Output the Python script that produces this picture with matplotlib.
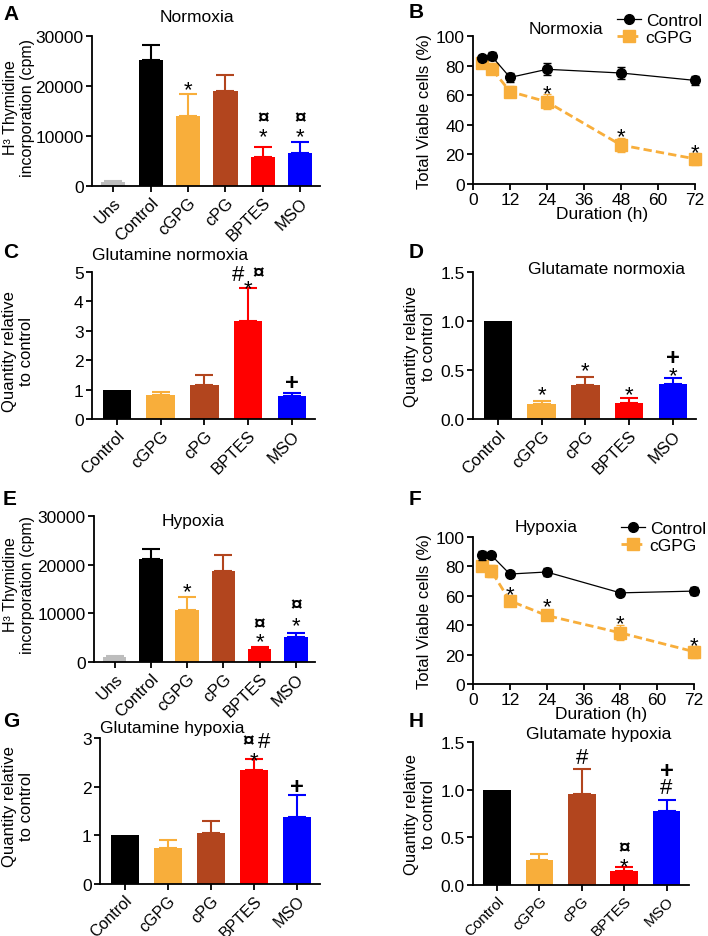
import matplotlib
matplotlib.use("Agg")
import matplotlib.pyplot as plt
import numpy as np

plt.rcParams['font.family'] = ['Liberation Sans', 'DejaVu Sans']
plt.rcParams['font.size'] = 12.5

W, H = 708, 937

# ---- data ----
thy_groups = ["Uns", "Control", "cGPG", "cPG", "BPTES", "MSO"]
gl_groups = ["Control", "cGPG", "cPG", "BPTES", "MSO"]

thy_norm = [800, 25300, 14000, 19000, 5900, 6600]
thy_norm_err = [250, 2900, 4400, 3300, 1900, 2200]
thy_hyp = [1000, 21200, 10700, 18700, 2600, 5100]
thy_hyp_err = [300, 2000, 2600, 3300, 400, 800]

gln_norm = [1.0, 0.82, 1.17, 3.32, 0.77]
gln_norm_err = [0.0, 0.10, 0.33, 1.12, 0.13]
glu_norm = [1.0, 0.15, 0.35, 0.16, 0.355]
glu_norm_err = [0.0, 0.03, 0.08, 0.05, 0.06]
gln_hyp = [1.0, 0.74, 1.05, 2.34, 1.37]
gln_hyp_err = [0.0, 0.16, 0.24, 0.23, 0.46]
glu_hyp = [1.0, 0.26, 0.95, 0.146, 0.78]
glu_hyp_err = [0.0, 0.06, 0.27, 0.04, 0.11]

hours = [3, 6, 12, 24, 48, 72]
via_norm_ctrl = [85, 86.5, 72, 77.5, 75, 70]
via_norm_ctrl_err = [2, 3, 3, 4, 4, 3]
via_norm_cgpg = [82, 78, 62.5, 55.5, 26.3, 17]
via_norm_cgpg_err = [3, 4, 4, 5, 5, 4]
via_hyp_ctrl = [87.5, 87.5, 74.8, 76.2, 62, 63.2]
via_hyp_ctrl_err = [3, 1.5, 1.5, 2.5, 2, 2.5]
via_hyp_cgpg = [80.5, 76.8, 56.6, 46.6, 34.8, 22]
via_hyp_cgpg_err = [2, 4, 2, 3, 5, 4]

colors6 = ["#bdbdbd", "#000000", "#f8ae3b", "#b2451e", "#ff0000", "#0000ff"]
colors5 = colors6[1:]
orange = "#f8ae3b"

# glyph centre above baseline (fraction of em) and size for the stat marks
GLYPH_C = {"*": 0.575, "#": 0.35, "¤": 0.36, "+": 0.35}
GLYPH_S = {"*": 16, "#": 16, "¤": 15, "+": 17}


def box(x0, y0, x1, y1):
    return [x0 / W, 1 - y1 / H, (x1 - x0) / W, (y1 - y0) / H]


def style(ax):
    for s in ["top", "right"]:
        ax.spines[s].set_visible(False)
    for s in ["left", "bottom"]:
        ax.spines[s].set_linewidth(1.3)
    ax.tick_params(width=1.3, length=4, direction="out", pad=2)


def bars(ax, names, vals, errs, cols, xfs=12):
    x = np.arange(len(names))
    for i in range(len(names)):
        ax.bar(x[i], vals[i], width=0.65, color=cols[i], zorder=2)
        if errs[i] > 0:
            ax.errorbar(x[i], vals[i], yerr=[[0], [errs[i]]], color=cols[i],
                        capsize=6.5, elinewidth=1.5, capthick=1.5, zorder=1)
    ax.set_xlim(-0.57, len(names) - 0.47)
    ax.set_xticks(x)
    ax.set_xticklabels(names, rotation=45, ha="right", va="top",
                       rotation_mode="anchor", fontsize=xfs)
    style(ax)
    return np.array(vals) + np.array(errs)


def mark(ax, x, y, s, d, dx=0):
    # d: pixels from the anchor (error bar top) to the glyph centre
    size = GLYPH_S[s]
    off = d * 72 / 100 - GLYPH_C[s] * size
    ax.annotate(s, (x, y), xytext=(dx * 0.72, off), textcoords="offset points",
                ha="center", va="baseline", fontsize=size,
                fontweight="bold" if s in "¤+" else "normal",
                annotation_clip=False)


def lines(ax, ctrl, ctrl_e, cg, cg_e, leg_xy):
    c1 = ax.errorbar(hours, ctrl, yerr=ctrl_e, color="black", marker="o",
                     markersize=7, lw=0.9, capsize=3, elinewidth=1,
                     clip_on=False, zorder=3)
    c2 = ax.errorbar(hours, cg, yerr=cg_e, color=orange, marker="s",
                     markersize=8, lw=2, ls="--", dashes=(3, 1.5), capsize=3,
                     elinewidth=1, clip_on=False, zorder=2)
    ax.set_xlim(0, 72)
    ax.set_xticks([0, 12, 24, 36, 48, 60, 72])
    ax.set_ylim(0, 100)
    ax.set_yticks([0, 20, 40, 60, 80, 100])
    style(ax)
    ax.legend([c1[0], c2[0]], ["Control", "cGPG"], loc="upper left",
              bbox_to_anchor=(leg_xy[0] / W, 1 - leg_xy[1] / H),
              bbox_transform=fig.transFigure, frameon=False,
              handlelength=1.4, handletextpad=0.25, borderpad=0,
              borderaxespad=0, labelspacing=0.1, fontsize=12.5)
    ax.set_ylabel("Total Viable cells (%)", labelpad=3, fontsize=12)


fig = plt.figure(figsize=(W / 100, H / 100), dpi=100)

# A
ax = fig.add_axes(box(92, 37, 320, 187))
top = bars(ax, thy_groups, thy_norm, thy_norm_err, colors6)
ax.set_ylim(0, 30000)
ax.set_yticks([0, 10000, 20000, 30000])
mark(ax, 2, top[2], "*", 12)
mark(ax, 4, top[4], "*", 18)
mark(ax, 4, top[4], "¤", 31)
mark(ax, 5, top[5], "*", 13)
mark(ax, 5, top[5], "¤", 26)
fig.text(197 / W, 1 - 18 / H, "Normoxia", ha="center", va="center")
fig.text(19 / W, 1 - 108 / H, "H³ Thymidine\nincorporation (cpm)",
         rotation=90, ha="center", va="center", multialignment="center",
         fontsize=11.5, linespacing=1.2)
fig.text(3 / W, 1 - 14 / H, "A", fontsize=15, fontweight="bold", va="center")

# B
ax = fig.add_axes(box(473, 37, 695, 185))
lines(ax, via_norm_ctrl, via_norm_ctrl_err, via_norm_cgpg, via_norm_cgpg_err,
      (617, 14))
top = np.array(via_norm_cgpg) + np.array(via_norm_cgpg_err)
for i in [3, 4, 5]:
    mark(ax, hours[i], top[i], "*", 8)
ax.set_xlabel("Duration (h)", labelpad=0)
ax.xaxis.set_label_coords(0.58, -0.15)
fig.text(566 / W, 1 - 30 / H, "Normoxia", ha="center", va="center")
fig.text(409 / W, 1 - 12 / H, "B", fontsize=15, fontweight="bold", va="center")

# C
ax = fig.add_axes(box(92, 273, 315, 420))
top = bars(ax, gl_groups, gln_norm, gln_norm_err, colors5)
ax.set_ylim(0, 5)
ax.set_yticks([0, 1, 2, 3, 4, 5])
mark(ax, 3, top[3], "#", 16.5, dx=-10)
mark(ax, 3, top[3], "*", 7.5)
mark(ax, 3, top[3], "¤", 17.5, dx=10)
mark(ax, 4, top[4], "+", 11.5)
fig.text(170 / W, 1 - 255 / H, "Glutamine normoxia", ha="center", va="center")
fig.text(18 / W, 1 - 352 / H, "Quantity relative\nto control", rotation=90,
         ha="center", va="center", multialignment="center", fontsize=12,
         linespacing=1.2)
fig.text(3 / W, 1 - 252 / H, "C", fontsize=15, fontweight="bold", va="center")

# D
ax = fig.add_axes(box(473, 273, 696, 420))
top = bars(ax, gl_groups, glu_norm, glu_norm_err, colors5)
ax.set_ylim(0, 1.5)
ax.set_yticks([0, 0.5, 1.0, 1.5])
ax.set_yticklabels(["0.0", "0.5", "1.0", "1.5"])
mark(ax, 1, top[1], "*", 14)
mark(ax, 2, top[2], "*", 13)
mark(ax, 3, top[3], "*", 11)
mark(ax, 4, top[4], "*", 10)
mark(ax, 4, top[4], "+", 23)
fig.text(606 / W, 1 - 269 / H, "Glutamate normoxia", ha="center", va="center")
ax.set_ylabel("Quantity relative\nto control", labelpad=3, fontsize=12,
              linespacing=1.2)
fig.text(409 / W, 1 - 252 / H, "D", fontsize=15, fontweight="bold", va="center")

# E
ax = fig.add_axes(box(94, 517, 315, 663))
top = bars(ax, thy_groups, thy_hyp, thy_hyp_err, colors6)
ax.set_ylim(0, 30000)
ax.set_yticks([0, 10000, 20000, 30000])
mark(ax, 2, top[2], "*", 13)
mark(ax, 4, top[4], "*", 13)
mark(ax, 4, top[4], "¤", 26)
mark(ax, 5, top[5], "*", 15)
mark(ax, 5, top[5], "¤", 31)
fig.text(193 / W, 1 - 522 / H, "Hypoxia", ha="center", va="center")
fig.text(19 / W, 1 - 585 / H, "H³ Thymidine\nincorporation (cpm)",
         rotation=90, ha="center", va="center", multialignment="center",
         fontsize=11.5, linespacing=1.2)
fig.text(3 / W, 1 - 500 / H, "E", fontsize=15, fontweight="bold", va="center")

# F
ax = fig.add_axes(box(473, 538, 694, 685))
lines(ax, via_hyp_ctrl, via_hyp_ctrl_err, via_hyp_cgpg, via_hyp_cgpg_err,
      (621, 522))
top = np.array(via_hyp_cgpg) + np.array(via_hyp_cgpg_err)
mark(ax, hours[2], top[2], "*", 10)
mark(ax, hours[3], top[3], "*", 12)
mark(ax, hours[4], top[4], "*", 9.5)
mark(ax, hours[5], top[5], "*", 7)
ax.set_xlabel("Duration (h)", labelpad=0)
ax.xaxis.set_label_coords(0.58, -0.15)
fig.text(546 / W, 1 - 528 / H, "Hypoxia", ha="center", va="center")
fig.text(409 / W, 1 - 500 / H, "F", fontsize=15, fontweight="bold", va="center")

# G
ax = fig.add_axes(box(100, 739, 320, 885))
top = bars(ax, gl_groups, gln_hyp, gln_hyp_err, colors5, xfs=11.5)
ax.set_ylim(0, 3)
ax.set_yticks([0, 1, 2, 3])
mark(ax, 3, top[3], "*", 6)
mark(ax, 3, top[3], "¤", 20, dx=-6)
mark(ax, 3, top[3], "#", 20, dx=10)
mark(ax, 4, top[4], "+", 10)
fig.text(172 / W, 1 - 728 / H, "Glutamine hypoxia", ha="center", va="center")
fig.text(18 / W, 1 - 807 / H, "Quantity relative\nto control", rotation=90,
         ha="center", va="center", multialignment="center", fontsize=12,
         linespacing=1.2)
fig.text(3 / W, 1 - 722 / H, "G", fontsize=15, fontweight="bold", va="center")

# H
ax = fig.add_axes(box(473, 743, 689, 886))
top = bars(ax, gl_groups, glu_hyp, glu_hyp_err, colors5, xfs=11)
ax.set_ylim(0, 1.5)
ax.set_yticks([0, 0.5, 1.0, 1.5])
ax.set_yticklabels(["0.0", "0.5", "1.0", "1.5"])
mark(ax, 2, top[2], "#", 13)
mark(ax, 3, top[3], "*", 8)
mark(ax, 3, top[3], "¤", 22)
mark(ax, 4, top[4], "#", 14.5)
mark(ax, 4, top[4], "+", 31)
fig.text(599 / W, 1 - 734 / H, "Glutamate hypoxia", ha="center", va="center")
ax.set_ylabel("Quantity relative\nto control", labelpad=3, fontsize=12,
              linespacing=1.2)
fig.text(409 / W, 1 - 722 / H, "H", fontsize=15, fontweight="bold", va="center")

fig.savefig("out.png", dpi=100)
